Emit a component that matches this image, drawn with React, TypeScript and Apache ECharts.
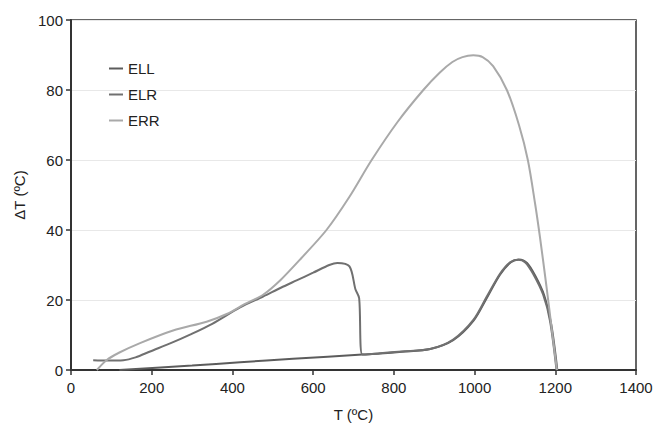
import React, { useEffect, useRef } from "react";
import * as echarts from "echarts";

const seriesNames = ["ELL", "ELR", "ERR"];

const ellData: [number, number][] = [
  [120, 0], [300, 1.3], [419, 2.2], [550, 3.2], [722, 4.4], [766, 4.7], [820, 5.2],
  [890, 6.0], [947, 8.5], [997, 14], [1030, 20.5], [1063, 27.2], [1090, 30.8],
  [1110, 31.6], [1130, 30.6], [1150, 27], [1172, 21.5], [1190, 13], [1205, 0],
];

const elrData: [number, number][] = [
  [55, 2.8], [90, 2.7], [130, 2.8], [160, 3.6], [196, 5.3], [250, 7.8], [295, 10.1],
  [350, 13.2], [419, 17.9], [476, 21], [520, 23.5], [559, 25.6], [600, 27.8],
  [640, 30.0], [660, 30.6], [690, 29.6], [705, 23], [714, 20.5], [722, 4.4],
  [766, 4.8], [820, 5.3], [890, 6.0], [947, 8.7], [997, 14.3], [1030, 20.9],
  [1063, 27.5], [1088, 30.8], [1108, 31.5], [1125, 30.8], [1145, 27.5],
  [1170, 21.5], [1187, 14], [1203, 0],
];

const errData: [number, number][] = [
  [64, 0], [88, 2.8], [120, 5], [171, 7.7], [253, 11.3], [336, 13.8], [386, 16],
  [430, 18.8], [476, 21.5], [520, 25.8], [571, 32], [633, 40], [690, 49.5],
  [745, 60], [810, 71], [873, 80], [914, 85], [945, 88], [970, 89.4], [997, 89.9],
  [1020, 89.4], [1046, 86.8], [1080, 80], [1110, 70], [1132, 60], [1150, 47.5],
  [1162, 38], [1178, 24], [1192, 11], [1204, 0],
];

const colors = ["#5c5c5c", "#707070", "#a9a9a9"];

export default function App() {
  const ref = useRef<HTMLDivElement>(null);
  useEffect(() => {
    if (!ref.current) return;
    const chart = echarts.init(ref.current, null, { renderer: "svg" });
    const font = "'Liberation Sans', Arial, sans-serif";
    const datas = [ellData, elrData, errData];
    chart.setOption({
      animation: false,
      backgroundColor: "#ffffff",
      textStyle: { fontFamily: font },
      grid: {
        left: 71, right: 21, top: 20, bottom: 53,
        show: true, borderColor: "#333", borderWidth: 1.5,
      },
      legend: {
        orient: "vertical",
        left: 104, top: 56,
        itemWidth: 14, itemHeight: 2, itemGap: 11,
        icon: "rect",
        textStyle: { fontFamily: font, fontSize: 15, color: "#222" },
        data: seriesNames,
      },
      xAxis: {
        type: "value", min: 0, max: 1400, interval: 200,
        name: "T (ºC)", nameLocation: "middle", nameGap: 37,
        nameTextStyle: { fontFamily: font, fontSize: 15, color: "#222" },
        axisLine: { show: true, lineStyle: { color: "#333", width: 2 } },
        axisTick: { show: true, length: 5, lineStyle: { color: "#333", width: 1.5 } },
        axisLabel: { fontFamily: font, fontSize: 15, color: "#222", margin: 10, formatter: (v: number) => String(v) },
        splitLine: { show: false },
      },
      yAxis: {
        type: "value", min: 0, max: 100, interval: 20,
        name: "ΔT (ºC)", nameLocation: "middle", nameGap: 42, nameRotate: 90,
        nameTextStyle: { fontFamily: font, fontSize: 15, color: "#222" },
        axisLine: { show: true, lineStyle: { color: "#333", width: 2 } },
        axisTick: { show: true, length: 5, lineStyle: { color: "#333", width: 1.5 } },
        axisLabel: { fontFamily: font, fontSize: 15, color: "#222", margin: 8, formatter: (v: number) => String(v) },
        splitLine: { show: true, lineStyle: { color: "#e8e8e8", width: 1 } },
      },
      series: seriesNames.map((name, i) => ({
        name,
        type: "line",
        data: datas[i],
        showSymbol: false,
        smooth: 0.3,
        lineStyle: { color: colors[i], width: 2 },
        itemStyle: { color: colors[i] },
      })),
    });
    return () => chart.dispose();
  }, []);
  return <div ref={ref} style={{ width: 657, height: 427, position: "absolute", left: 0, top: 0 }} />;
}
